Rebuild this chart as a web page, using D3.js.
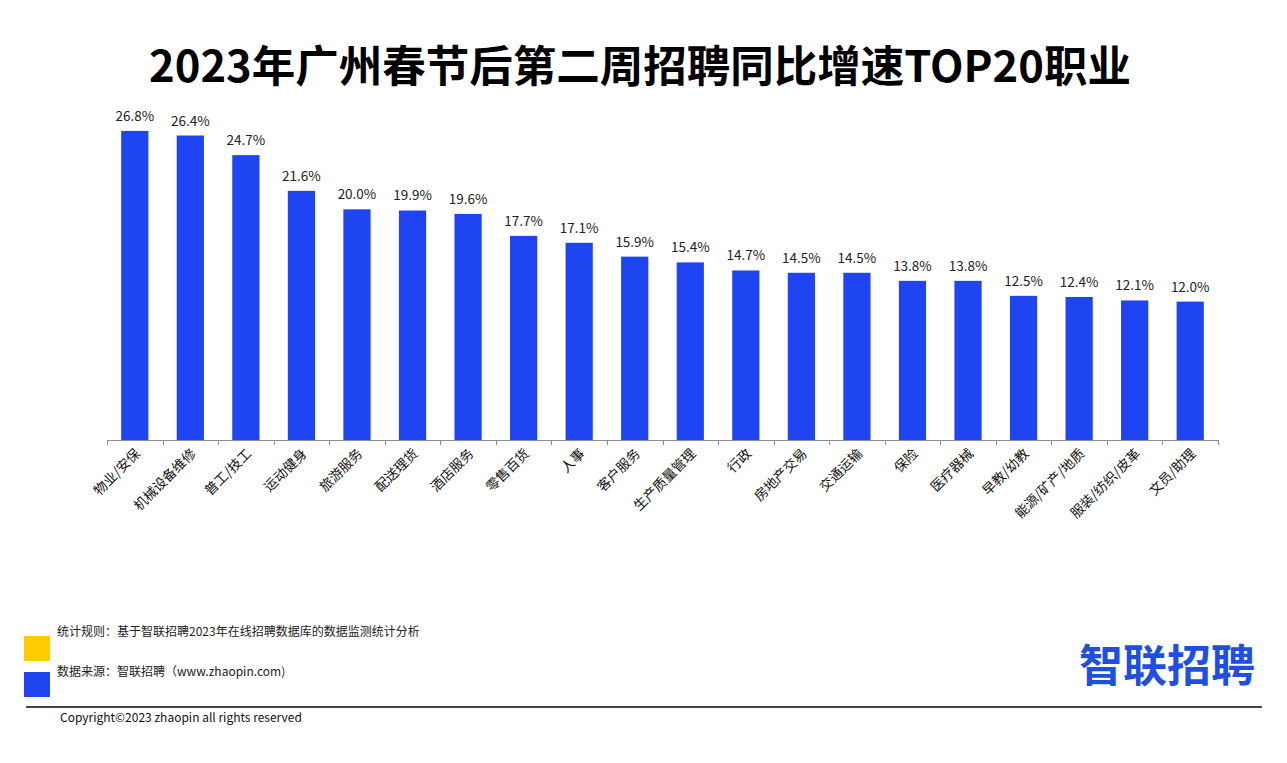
<!DOCTYPE html>
<html><head><meta charset="utf-8">
<script src="https://cdn.jsdelivr.net/npm/d3@7"></script>
<style>
html,body{margin:0;padding:0;background:#fff;}
svg text{font-family:"Noto Sans CJK SC","Noto Sans",sans-serif;}
</style></head>
<body>
<svg id="chart" width="1287" height="763"></svg>
<script>
const categories = ["物业/安保","机械设备维修","普工/技工","运动健身","旅游服务","配送理货","酒店服务","零售百货","人事","客户服务","生产质量管理","行政","房地产交易","交通运输","保险","医疗器械","早教/幼教","能源/矿产/地质","服装/纺织/皮革","文员/助理"];
const values = [26.8,26.4,24.7,21.6,20.0,19.9,19.6,17.7,17.1,15.9,15.4,14.7,14.5,14.5,13.8,13.8,12.5,12.4,12.1,12.0];
const title = "2023年广州春节后第二周招聘同比增速TOP20职业";
const notes = ["统计规则：基于智联招聘2023年在线招聘数据库的数据监测统计分析","数据来源：智联招聘（www.zhaopin.com)"];
const copyright = "Copyright©2023 zhaopin all rights reserved";

const svg = d3.select("#chart");
const barColor = "#1f45f2";

svg.append("text").attr("x", 640).attr("y", 82).attr("text-anchor","middle")
  .attr("font-size", 43.5).attr("font-weight", 700).attr("fill","#000").text(title);

const x = d3.scaleBand().domain(categories).range([107, 1218]).paddingInner(0.51).paddingOuter(0.255);
const y = d3.scaleLinear().domain([0, 30]).range([440, 94]);

svg.selectAll("rect.bar").data(values).join("rect").attr("class","bar")
  .attr("x",(d,i)=>x(categories[i])).attr("width",x.bandwidth())
  .attr("y",d=>y(d)).attr("height",d=>y(0)-y(d)).attr("fill",barColor);

svg.selectAll("text.val").data(values).join("text").attr("class","val")
  .attr("x",(d,i)=>x(categories[i])+x.bandwidth()/2).attr("y",d=>y(d)-10)
  .attr("text-anchor","middle").attr("font-size",13.5).attr("fill","#222")
  .text(d=>d.toFixed(1)+"%");

// axis
const axisLine = svg.append("g");
axisLine.append("line").attr("x1",107).attr("x2",1218).attr("y1",440.5).attr("y2",440.5).attr("stroke","#8c8c8c").attr("stroke-width",1);
const bounds = d3.range(categories.length+1).map(i => 107 + i*(1111/categories.length));
axisLine.selectAll("line.tk").data(bounds).join("line").attr("class","tk")
  .attr("x1",d=>Math.round(d)+0.5).attr("x2",d=>Math.round(d)+0.5).attr("y1",440).attr("y2",445).attr("stroke","#8c8c8c");

svg.selectAll("text.cat").data(categories).join("text").attr("class","cat")
  .attr("transform",d=>`translate(${x(d)+x.bandwidth()/2+3},451) rotate(-45)`)
  .attr("text-anchor","end").attr("dy","0.35em").attr("font-size",13.5).attr("fill","#111").text(d=>d);

// legend squares and notes
svg.append("rect").attr("x",24).attr("y",636).attr("width",26).attr("height",25).attr("fill","#ffcc00");
svg.append("rect").attr("x",24).attr("y",672).attr("width",26).attr("height",25).attr("fill",barColor);
svg.append("text").attr("x",57).attr("y",636).attr("font-size",12).attr("fill","#222").text(notes[0]);
svg.append("text").attr("x",57).attr("y",676).attr("font-size",12).attr("fill","#222").text(notes[1]);

svg.append("line").attr("x1",26).attr("x2",1262).attr("y1",707).attr("y2",707).attr("stroke","#444").attr("stroke-width",2);
svg.append("text").attr("x",60).attr("y",722).attr("font-size",12).attr("fill","#111").text(copyright);

// logo
svg.append("text").attr("x",1079).attr("y",682).attr("font-size",44).attr("font-weight",700)
  .attr("fill","#1f4fe0").text("智联招聘");
</script>
</body></html>
